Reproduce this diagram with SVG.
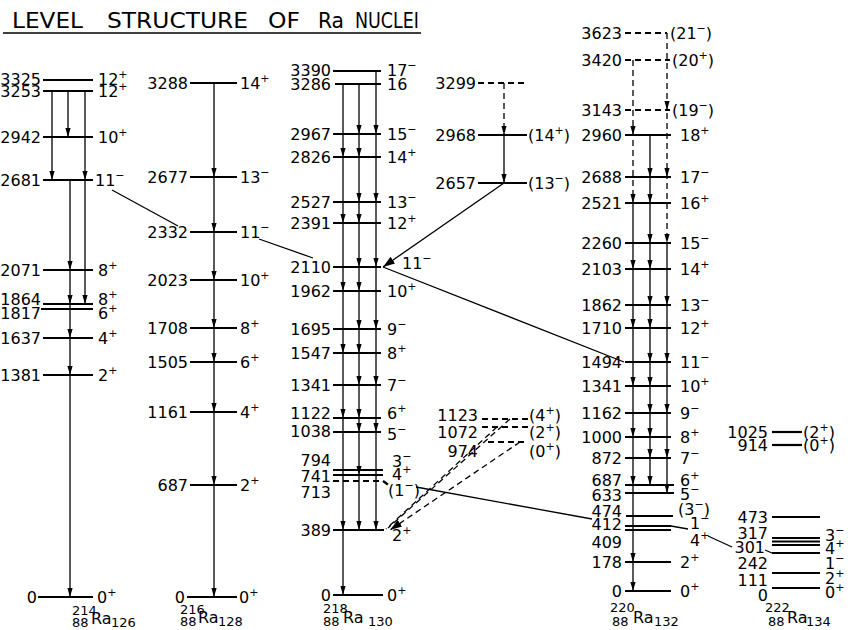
<svg xmlns="http://www.w3.org/2000/svg" width="856" height="630" viewBox="0 0 856 630">
<style>
text{font-family:"DejaVu Sans","Liberation Sans",sans-serif;font-size:16px;fill:#000}
.e{text-anchor:end}
.s{font-size:11px}
.t{font-size:21px}
.lv{stroke:#000;stroke-width:2.2;fill:none}
.d{stroke-dasharray:6 4}
.tr{stroke:#000;stroke-width:1.3;fill:none}
.ar{marker-mid:url(#ah);marker-end:url(#ah)}
.nl{font-size:16px}
.ns{font-size:13px}
</style>
<defs>
<marker id="ah" viewBox="-9 -3 10 6" refX="0" refY="0" markerWidth="10" markerHeight="6" markerUnits="userSpaceOnUse" orient="auto"><path d="M0,0 L-9,-2.6 L-9,2.6 z" fill="#000"/></marker>
<marker id="ahb" viewBox="-12 -5 13 10" refX="0" refY="0" markerWidth="13" markerHeight="10" markerUnits="userSpaceOnUse" orient="auto"><path d="M0,0 L-12,-4 L-12,4 z" fill="#000"/></marker>
</defs>
<rect width="856" height="630" fill="#fff"/>

<g id="title">
<text class="t" x="12" y="28" textLength="71" lengthAdjust="spacingAndGlyphs">LEVEL</text>
<text class="t" x="107" y="28" textLength="141" lengthAdjust="spacingAndGlyphs">STRUCTURE</text>
<text class="t" x="268" y="28" textLength="32" lengthAdjust="spacingAndGlyphs">OF</text>
<text class="t" x="318" y="28" textLength="26" lengthAdjust="spacingAndGlyphs">Ra</text>
<text class="t" x="355" y="28" textLength="64" lengthAdjust="spacingAndGlyphs">NUCLEI</text>
<line x1="3" y1="33" x2="421" y2="33" stroke="#000" stroke-width="1.5"/>
</g>

<!-- 214Ra -->
<g id="ra214">
<g id="ra214-3325"><line class="lv" x1="43" y1="80" x2="93" y2="80"/><text class="e" x="41" y="85">3325</text><text x="98" y="85">12<tspan class="s" dy="-7">+</tspan></text></g>
<g id="ra214-3253"><line class="lv" x1="43" y1="91" x2="93" y2="91"/><text class="e" x="41" y="97">3253</text><text x="98" y="97">12<tspan class="s" dy="-7">+</tspan></text></g>
<g id="ra214-2942"><line class="lv" x1="43" y1="137" x2="93" y2="137"/><text class="e" x="41" y="143">2942</text><text x="98" y="143">10<tspan class="s" dy="-7">+</tspan></text></g>
<g id="ra214-2681"><line class="lv" x1="43" y1="180" x2="93" y2="180"/><text class="e" x="41" y="186">2681</text><text x="95" y="186">11<tspan class="s" dy="-7">−</tspan></text></g>
<g id="ra214-2071"><line class="lv" x1="43" y1="270" x2="93" y2="270"/><text class="e" x="41" y="276">2071</text><text x="98" y="276">8<tspan class="s" dy="-7">+</tspan></text></g>
<g id="ra214-1864"><line class="lv" x1="43" y1="304" x2="93" y2="304"/><text class="e" x="41" y="305">1864</text><text x="98" y="305">8<tspan class="s" dy="-7">+</tspan></text></g>
<g id="ra214-1817"><line class="lv" x1="41" y1="309" x2="93" y2="309"/><text class="e" x="41" y="319">1817</text><text x="98" y="319">6<tspan class="s" dy="-7">+</tspan></text></g>
<g id="ra214-1637"><line class="lv" x1="43" y1="338" x2="93" y2="338"/><text class="e" x="41" y="344">1637</text><text x="98" y="344">4<tspan class="s" dy="-7">+</tspan></text></g>
<g id="ra214-1381"><line class="lv" x1="43" y1="375" x2="93" y2="375"/><text class="e" x="41" y="381">1381</text><text x="98" y="381">2<tspan class="s" dy="-7">+</tspan></text></g>
<g id="ra214-0"><line class="lv" x1="38" y1="597" x2="93" y2="597"/><text class="e" x="37" y="603">0</text><text x="97" y="603">0<tspan class="s" dy="-7">+</tspan></text></g>
<g id="ra214-name"><text class="ns" x="72" y="615">214</text><text class="ns" x="72" y="627">88</text><text class="nl" x="91" y="624">Ra</text><text class="ns" x="111" y="627">126</text></g>
</g>

<!-- 216Ra -->
<g id="ra216">
<g id="ra216-3288"><line class="lv" x1="190" y1="83" x2="237" y2="83"/><text class="e" x="188" y="89">3288</text><text x="240" y="89">14<tspan class="s" dy="-7">+</tspan></text></g>
<g id="ra216-2677"><line class="lv" x1="190" y1="177" x2="237" y2="177"/><text class="e" x="188" y="183">2677</text><text x="240" y="183">13<tspan class="s" dy="-7">−</tspan></text></g>
<g id="ra216-2332"><line class="lv" x1="190" y1="232" x2="237" y2="232"/><text class="e" x="188" y="238">2332</text><text x="240" y="238">11<tspan class="s" dy="-7">−</tspan></text></g>
<g id="ra216-2023"><line class="lv" x1="190" y1="280" x2="237" y2="280"/><text class="e" x="188" y="286">2023</text><text x="240" y="286">10<tspan class="s" dy="-7">+</tspan></text></g>
<g id="ra216-1708"><line class="lv" x1="190" y1="328" x2="237" y2="328"/><text class="e" x="188" y="334">1708</text><text x="240" y="334">8<tspan class="s" dy="-7">+</tspan></text></g>
<g id="ra216-1505"><line class="lv" x1="190" y1="362" x2="237" y2="362"/><text class="e" x="188" y="368">1505</text><text x="240" y="368">6<tspan class="s" dy="-7">+</tspan></text></g>
<g id="ra216-1161"><line class="lv" x1="190" y1="412" x2="237" y2="412"/><text class="e" x="188" y="418">1161</text><text x="240" y="418">4<tspan class="s" dy="-7">+</tspan></text></g>
<g id="ra216-687"><line class="lv" x1="190" y1="485" x2="237" y2="485"/><text class="e" x="188" y="491">687</text><text x="240" y="491">2<tspan class="s" dy="-7">+</tspan></text></g>
<g id="ra216-0"><line class="lv" x1="187" y1="597" x2="237" y2="597"/><text class="e" x="185" y="603">0</text><text x="239" y="603">0<tspan class="s" dy="-7">+</tspan></text></g>
<g id="ra216-name"><text class="ns" x="180" y="614">216</text><text class="ns" x="180" y="626">88</text><text class="nl" x="198" y="623">Ra</text><text class="ns" x="218" y="626">128</text></g>
</g>

<!-- 218Ra -->
<g id="ra218">
<g id="ra218-3390"><line class="lv" x1="333" y1="71" x2="381" y2="71"/><text class="e" x="331" y="76">3390</text><text x="387" y="76">17<tspan class="s" dy="-7">−</tspan></text></g>
<g id="ra218-3286"><line class="lv" x1="335" y1="84" x2="381" y2="84"/><text class="e" x="331" y="90">3286</text><text x="387" y="90">16</text></g>
<g id="ra218-2967"><line class="lv" x1="333" y1="134" x2="381" y2="134"/><text class="e" x="331" y="140">2967</text><text x="387" y="140">15<tspan class="s" dy="-7">−</tspan></text></g>
<g id="ra218-2826"><line class="lv" x1="333" y1="157" x2="381" y2="157"/><text class="e" x="331" y="163">2826</text><text x="387" y="163">14<tspan class="s" dy="-7">+</tspan></text></g>
<g id="ra218-2527"><line class="lv" x1="333" y1="202" x2="381" y2="202"/><text class="e" x="331" y="208">2527</text><text x="387" y="208">13<tspan class="s" dy="-7">−</tspan></text></g>
<g id="ra218-2391"><line class="lv" x1="333" y1="223" x2="381" y2="223"/><text class="e" x="331" y="229">2391</text><text x="387" y="229">12<tspan class="s" dy="-7">+</tspan></text></g>
<g id="ra218-2110"><line class="lv" x1="333" y1="267" x2="381" y2="267"/><text class="e" x="331" y="273">2110</text><text x="402" y="269">11<tspan class="s" dy="-7">−</tspan></text></g>
<g id="ra218-1962"><line class="lv" x1="333" y1="291" x2="381" y2="291"/><text class="e" x="331" y="297">1962</text><text x="387" y="297">10<tspan class="s" dy="-7">+</tspan></text></g>
<g id="ra218-1695"><line class="lv" x1="333" y1="329" x2="381" y2="329"/><text class="e" x="331" y="335">1695</text><text x="387" y="335">9<tspan class="s" dy="-7">−</tspan></text></g>
<g id="ra218-1547"><line class="lv" x1="333" y1="353" x2="381" y2="353"/><text class="e" x="331" y="359">1547</text><text x="387" y="359">8<tspan class="s" dy="-7">+</tspan></text></g>
<g id="ra218-1341"><line class="lv" x1="333" y1="385" x2="381" y2="385"/><text class="e" x="331" y="391">1341</text><text x="387" y="391">7<tspan class="s" dy="-7">−</tspan></text></g>
<g id="ra218-1122"><line class="lv" x1="333" y1="418" x2="381" y2="418"/><text class="e" x="331" y="419">1122</text><text x="387" y="419">6<tspan class="s" dy="-7">+</tspan></text></g>
<g id="ra218-1038"><line class="lv" x1="333" y1="432" x2="381" y2="432"/><text class="e" x="331" y="437">1038</text><text x="387" y="440">5<tspan class="s" dy="-7">−</tspan></text></g>
<g id="ra218-794"><line class="lv" x1="333" y1="470" x2="383" y2="470"/><text class="e" x="331" y="466">794</text><text x="392" y="467">3<tspan class="s" dy="-7">−</tspan></text></g>
<g id="ra218-741"><line class="lv" x1="333" y1="475" x2="383" y2="475"/><text class="e" x="331" y="482">741</text><text x="392" y="480">4<tspan class="s" dy="-7">+</tspan></text></g>
<g id="ra218-713"><path class="lv d" d="M333,481 H383 L390,486"/><text class="e" x="331" y="498">713</text><text x="388" y="496">(1<tspan class="s" dy="-7">−</tspan><tspan dy="7">)</tspan></text></g>
<g id="ra218-389"><line class="lv" x1="333" y1="530" x2="384" y2="530"/><text class="e" x="331" y="536">389</text><text x="392" y="541">2<tspan class="s" dy="-7">+</tspan></text></g>
<g id="ra218-0"><line class="lv" x1="333" y1="595" x2="383" y2="595"/><text class="e" x="331" y="601">0</text><text x="387" y="601">0<tspan class="s" dy="-7">+</tspan></text></g>
<g id="ra218-name"><text class="ns" x="323" y="613">218</text><text class="ns" x="323" y="626">88</text><text class="nl" x="343" y="623">Ra</text><text class="ns" x="368" y="626">130</text></g>
</g>

<!-- 218Ra side levels -->
<g id="ra218b">
<g id="ra218-3299"><line class="lv d" x1="478" y1="83" x2="527" y2="83"/><text class="e" x="476" y="89">3299</text></g>
<g id="ra218-2968"><line class="lv" x1="478" y1="135" x2="527" y2="135"/><text class="e" x="476" y="141">2968</text><text x="528" y="141">(14<tspan class="s" dy="-7">+</tspan><tspan dy="7">)</tspan></text></g>
<g id="ra218-2657"><line class="lv" x1="478" y1="183" x2="527" y2="183"/><text class="e" x="476" y="189">2657</text><text x="528" y="189">(13<tspan class="s" dy="-7">−</tspan><tspan dy="7">)</tspan></text></g>
<g id="ra218-1123"><line class="lv d" x1="482" y1="419" x2="528" y2="419"/><text class="e" x="478" y="421">1123</text><text x="529" y="421">(4<tspan class="s" dy="-7">+</tspan><tspan dy="7">)</tspan></text></g>
<g id="ra218-1072"><line class="lv d" x1="482" y1="427" x2="528" y2="427"/><text class="e" x="478" y="438">1072</text><text x="529" y="438">(2<tspan class="s" dy="-7">+</tspan><tspan dy="7">)</tspan></text></g>
<g id="ra218-974"><line class="lv d" x1="488" y1="442" x2="528" y2="442"/><text class="e" x="478" y="457">974</text><text x="529" y="457">(0<tspan class="s" dy="-7">+</tspan><tspan dy="7">)</tspan></text></g>
</g>

<!-- 220Ra -->
<g id="ra220">
<g id="ra220-3623"><line class="lv d" x1="625" y1="33" x2="667" y2="33"/><text class="e" x="622" y="39">3623</text><text x="670" y="39">(21<tspan class="s" dy="-7">−</tspan><tspan dy="7">)</tspan></text></g>
<g id="ra220-3420"><line class="lv d" x1="625" y1="60" x2="670" y2="60"/><text class="e" x="622" y="66">3420</text><text x="672" y="66">(20<tspan class="s" dy="-7">+</tspan><tspan dy="7">)</tspan></text></g>
<g id="ra220-3143"><line class="lv d" x1="625" y1="110" x2="670" y2="110"/><text class="e" x="622" y="116">3143</text><text x="672" y="116">(19<tspan class="s" dy="-7">−</tspan><tspan dy="7">)</tspan></text></g>
<g id="ra220-2960"><line class="lv" x1="625" y1="135" x2="671" y2="135"/><text class="e" x="622" y="141">2960</text><text x="680" y="141">18<tspan class="s" dy="-7">+</tspan></text></g>
<g id="ra220-2688"><line class="lv" x1="625" y1="177" x2="671" y2="177"/><text class="e" x="622" y="183">2688</text><text x="680" y="183">17<tspan class="s" dy="-7">−</tspan></text></g>
<g id="ra220-2521"><line class="lv" x1="625" y1="203" x2="671" y2="203"/><text class="e" x="622" y="209">2521</text><text x="680" y="209">16<tspan class="s" dy="-7">+</tspan></text></g>
<g id="ra220-2260"><line class="lv" x1="625" y1="243" x2="671" y2="243"/><text class="e" x="622" y="249">2260</text><text x="680" y="249">15<tspan class="s" dy="-7">−</tspan></text></g>
<g id="ra220-2103"><line class="lv" x1="625" y1="269" x2="671" y2="269"/><text class="e" x="622" y="275">2103</text><text x="680" y="275">14<tspan class="s" dy="-7">+</tspan></text></g>
<g id="ra220-1862"><line class="lv" x1="625" y1="305" x2="671" y2="305"/><text class="e" x="622" y="311">1862</text><text x="680" y="311">13<tspan class="s" dy="-7">−</tspan></text></g>
<g id="ra220-1710"><line class="lv" x1="625" y1="328" x2="671" y2="328"/><text class="e" x="622" y="334">1710</text><text x="680" y="334">12<tspan class="s" dy="-7">+</tspan></text></g>
<g id="ra220-1494"><line class="lv" x1="625" y1="362" x2="671" y2="362"/><text class="e" x="622" y="368">1494</text><text x="680" y="368">11<tspan class="s" dy="-7">−</tspan></text></g>
<g id="ra220-1341"><line class="lv" x1="625" y1="386" x2="671" y2="386"/><text class="e" x="622" y="392">1341</text><text x="680" y="392">10<tspan class="s" dy="-7">+</tspan></text></g>
<g id="ra220-1162"><line class="lv" x1="625" y1="413" x2="671" y2="413"/><text class="e" x="622" y="419">1162</text><text x="680" y="419">9<tspan class="s" dy="-7">−</tspan></text></g>
<g id="ra220-1000"><line class="lv" x1="625" y1="437" x2="671" y2="437"/><text class="e" x="622" y="443">1000</text><text x="680" y="443">8<tspan class="s" dy="-7">+</tspan></text></g>
<g id="ra220-872"><line class="lv" x1="625" y1="458" x2="671" y2="458"/><text class="e" x="622" y="464">872</text><text x="680" y="464">7<tspan class="s" dy="-7">−</tspan></text></g>
<g id="ra220-687"><line class="lv" x1="625" y1="485" x2="674" y2="485"/><text class="e" x="622" y="486">687</text><text x="680" y="486">6<tspan class="s" dy="-7">+</tspan></text></g>
<g id="ra220-633"><line class="lv" x1="625" y1="493" x2="674" y2="493"/><text class="e" x="622" y="501">633</text><text x="680" y="500">5<tspan class="s" dy="-7">−</tspan></text></g>
<g id="ra220-474"><line class="lv" x1="626" y1="516" x2="673" y2="516"/><text class="e" x="622" y="517">474</text><text x="678" y="515">(3<tspan class="s" dy="-7">−</tspan><tspan dy="7">)</tspan></text></g>
<g id="ra220-412"><path class="lv" d="M625,526 H671"/><text class="e" x="622" y="530">412</text><text x="690" y="529">1<tspan class="s" dy="-7">−</tspan></text></g>
<g id="ra220-409"><line class="lv" x1="625" y1="530" x2="671" y2="530"/><text class="e" x="622" y="548">409</text><text x="690" y="546">4<tspan class="s" dy="-7">+</tspan></text></g>
<g id="ra220-178"><line class="lv" x1="625" y1="562" x2="671" y2="562"/><text class="e" x="622" y="568">178</text><text x="680" y="568">2<tspan class="s" dy="-7">+</tspan></text></g>
<g id="ra220-0"><line class="lv" x1="625" y1="591" x2="671" y2="591"/><text class="e" x="622" y="597">0</text><text x="680" y="597">0<tspan class="s" dy="-7">+</tspan></text></g>
<g id="ra220-name"><text class="ns" x="610" y="612">220</text><text class="ns" x="612" y="626">88</text><text class="nl" x="633" y="623">Ra</text><text class="ns" x="654" y="626">132</text></g>
</g>

<!-- 222Ra -->
<g id="ra222">
<g id="ra222-1025"><line class="lv" x1="772" y1="432" x2="802" y2="432"/><text class="e" x="768" y="438">1025</text><text x="803" y="438">(2<tspan class="s" dy="-7">+</tspan><tspan dy="7">)</tspan></text></g>
<g id="ra222-914"><line class="lv" x1="772" y1="445" x2="802" y2="445"/><text class="e" x="768" y="451">914</text><text x="803" y="451">(0<tspan class="s" dy="-7">+</tspan><tspan dy="7">)</tspan></text></g>
<g id="ra222-473"><line class="lv" x1="772" y1="517" x2="820" y2="517"/><text class="e" x="768" y="523">473</text></g>
<g id="ra222-317"><line class="lv" x1="772" y1="538" x2="820" y2="538"/><text class="e" x="768" y="539">317</text><text x="825" y="541">3<tspan class="s" dy="-7">−</tspan></text></g>
<g id="ra222-301"><line class="lv" x1="772" y1="541.5" x2="820" y2="541.5"/><line class="lv" x1="772" y1="545" x2="820" y2="545"/><text class="e" x="765" y="553">301</text><text x="825" y="554">4<tspan class="s" dy="-7">+</tspan></text></g>
<g id="ra222-242"><line class="lv" x1="772" y1="553" x2="820" y2="553"/><text class="e" x="768" y="569">242</text><text x="825" y="569">1<tspan class="s" dy="-7">−</tspan></text></g>
<g id="ra222-111"><line class="lv" x1="772" y1="573" x2="820" y2="573"/><text class="e" x="768" y="586">111</text><text x="825" y="584">2<tspan class="s" dy="-7">+</tspan></text></g>
<g id="ra222-0"><line class="lv" x1="772" y1="588" x2="820" y2="588"/><text class="e" x="768" y="601">0</text><text x="825" y="598">0<tspan class="s" dy="-7">+</tspan></text></g>
<g id="ra222-name"><text class="ns" x="765" y="612">222</text><text class="ns" x="768" y="626">88</text><text class="nl" x="787" y="623">Ra</text><text class="ns" x="806" y="626">134</text></g>
</g>

<g id="connectors">
<!-- 214 -->
<polyline class="tr ar" points="52,91 52,180"/>
<polyline class="tr ar" points="68,91 68,137"/>
<polyline class="tr ar" points="85,91 85,180 85,304"/>
<polyline class="tr ar" points="70,180 70,270 70,304 70,338 70,375 70,597"/>
<!-- 216 -->
<polyline class="tr ar" points="214,83 214,177 214,232 214,280 214,328 214,362 214,412 214,485 214,597"/>
<!-- 218 -->
<polyline class="tr ar" points="343,84 343,157 343,223 343,291 343,353 343,418 343,530 343,595"/>
<polyline class="tr ar" points="359,84 359,134 359,157 359,202 359,223 359,267 359,291 359,329 359,353 359,385 359,418 359,432 359,475 359,530"/>
<polyline class="tr ar" points="376,71 376,134 376,202 376,267 376,329 376,385 376,432 376,530"/>
<polyline class="tr d ar" points="504,83 504,135"/>
<polyline class="tr ar" points="504,135 504,183"/>
<line class="tr" x1="504" y1="183" x2="383" y2="267" marker-end="url(#ahb)"/>
<line class="tr d" x1="510" y1="419" x2="388" y2="528"/>
<line class="tr d" x1="497" y1="427" x2="386" y2="529"/>
<line class="tr d" x1="520" y1="442" x2="390" y2="530" marker-end="url(#ahb)"/>
<!-- cross links -->
<line class="tr" x1="112" y1="190" x2="178" y2="226"/>
<line class="tr" x1="259" y1="239" x2="313" y2="258"/>
<line class="tr" x1="383" y1="267" x2="624" y2="362"/>
<line class="tr" x1="416" y1="487" x2="592" y2="519"/>
<line class="tr" x1="671" y1="526" x2="688" y2="529"/>
<line class="tr" x1="708" y1="536" x2="732" y2="547"/>
<line class="tr" x1="765" y1="550" x2="772" y2="553"/>
<!-- 220 -->
<polyline class="tr d ar" points="667,33 667,110 667,177 667,243"/>
<polyline class="tr ar" points="667,243 667,305 667,362 667,413 667,458 667,493"/>
<polyline class="tr d ar" points="633,60 633,135 633,203"/>
<polyline class="tr ar" points="633,203 633,269 633,328 633,386 633,437 633,485 633,562 633,591"/>
<polyline class="tr ar" points="650,135 650,177 650,203 650,243 650,269 650,305 650,328 650,362 650,386 650,413 650,437 650,458 650,485"/>
</g>
</svg>
